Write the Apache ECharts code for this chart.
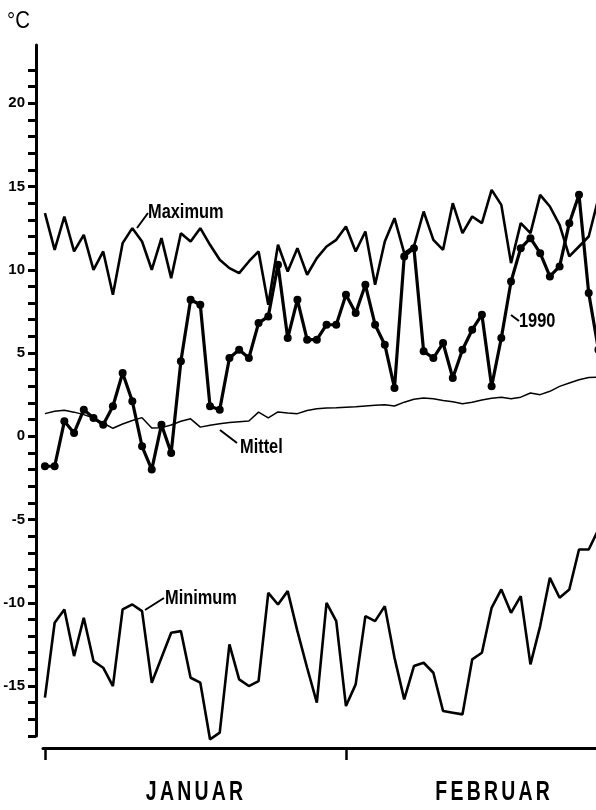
<!DOCTYPE html>
<html>
<head>
<meta charset="utf-8">
<script src="https://cdn.jsdelivr.net/npm/echarts@6/dist/echarts.min.js"></script>
<style>
  html, body { margin: 0; padding: 0; background: #fff; }
  #chart { width: 596px; height: 810px; }
</style>
</head>
<body>
<div id="chart"></div>
<script>
// Days from 1 January (index 0) to 28 February 1990 (index 58); picture is cut near Feb 27
const maximum = [13.4, 11.2, 13.2, 11.1, 12.1, 10.0, 11.1, 8.5, 11.6, 12.5,
  11.7, 10.0, 11.9, 9.5, 12.2, 11.7, 12.5, 11.5, 10.6, 10.1,
  9.8, 10.5, 11.1, 7.9, 11.5, 9.9, 11.3, 9.7, 10.7, 11.4,
  11.8, 12.6, 11.1, 12.3, 9.1, 11.7, 13.1, 11.0, 11.4, 13.5,
  11.8, 11.2, 14.0, 12.2, 13.2, 12.8, 14.8, 13.9, 10.4, 12.8,
  12.2, 14.5, 13.8, 12.7, 10.8, 11.4, 12.0, 14.3];
const year1990 = [-1.8, -1.8, 0.9, 0.2, 1.6, 1.1, 0.7, 1.8, 3.8, 2.1,
  -0.6, -2.0, 0.7, -1.0, 4.5, 8.2, 7.9, 1.8, 1.6, 4.7,
  5.2, 4.7, 6.8, 7.2, 10.3, 5.9, 8.2, 5.8, 5.8, 6.7,
  6.7, 8.5, 7.4, 9.1, 6.7, 5.5, 2.9, 10.8, 11.3, 5.1,
  4.7, 5.6, 3.5, 5.2, 6.4, 7.3, 3.0, 5.9, 9.3, 11.3,
  11.9, 11.0, 9.6, 10.2, 12.8, 14.5, 8.6, 5.2];
const mittel = [1.36, 1.5, 1.56, 1.45, 1.3, 1.1, 0.8, 0.48, 0.74, 0.95,
  1.12, 0.5, 0.52, 0.68, 0.9, 1.05, 0.55, 0.66, 0.75, 0.83,
  0.88, 0.92, 1.45, 1.1, 1.46, 1.4, 1.36, 1.55, 1.66, 1.7,
  1.72, 1.75, 1.78, 1.82, 1.86, 1.9, 1.82, 2.05, 2.22, 2.3,
  2.25, 2.15, 2.07, 1.95, 2.05, 2.18, 2.28, 2.35, 2.26, 2.35,
  2.6, 2.5, 2.7, 3.0, 3.2, 3.4, 3.53, 3.56];
const minimum = [-15.7, -11.2, -10.4, -13.2, -10.9, -13.5, -13.9, -15.0, -10.4, -10.1,
  -10.5, -14.8, -13.3, -11.8, -11.7, -14.5, -14.8, -18.2, -17.8, -12.5,
  -14.6, -15.0, -14.7, -9.4, -10.1, -9.3, -11.7, -13.9, -16.0, -10.0,
  -11.1, -16.2, -14.9, -10.8, -11.1, -10.2, -13.3, -15.8, -13.8, -13.6,
  -14.2, -16.5, -16.6, -16.7, -13.4, -13.0, -10.3, -9.2, -10.6, -9.6,
  -13.7, -11.4, -8.5, -9.7, -9.2, -6.8, -6.8, -5.6];

const monthTicks = [0, 31];                 // 1 Jan, 1 Feb
const monthLabelPos = [15.4, 46.1];
const monthNames = ['JANUAR', 'FEBRUAR'];
const yLabelValues = [-15, -10, -5, 0, 5, 10, 15, 20];
const yTickValues = [];
for (let v = -18; v <= 22; v++) yTickValues.push(v);

const FONT = "'Liberation Sans', Arial, sans-serif";
const spaced = s => s.split('').join('\u200A\u200A');
const toPairs = arr => arr.map((v, i) => [i, v]);

function label(text, x, y, size) {
  return { type: 'text', x: x, y: y, scaleX: 0.78,
    style: { text: text, font: 'bold ' + size + 'px ' + FONT, fill: '#000', verticalAlign: 'middle' } };
}
function leader(x1, y1, x2, y2) {
  return { type: 'line', shape: { x1, y1, x2, y2 }, style: { stroke: '#000', lineWidth: 2 } };
}

const chart = echarts.init(document.getElementById('chart'), null, { renderer: 'canvas' });
chart.setOption({
  animation: false,
  backgroundColor: '#fff',
  grid: { left: 43, right: 0, top: 45, bottom: 74, outerBoundsMode: 'none' },
  xAxis: {
    type: 'value', min: -0.2, max: 56.75, position: 'bottom', offset: 12,
    axisLine: { show: true, onZero: false, lineStyle: { color: '#000', width: 3 } },
    axisTick: { show: true, customValues: monthTicks, length: 12, lineStyle: { color: '#000', width: 2.5 } },
    axisLabel: { show: false },
    splitLine: { show: false }
  },
  yAxis: {
    type: 'value', min: -18, max: 23.5, position: 'left', offset: 7,
    axisLine: { show: true, onZero: false, lineStyle: { color: '#000', width: 3 } },
    axisTick: { show: true, customValues: yTickValues, length: 8, lineStyle: { color: '#000', width: 3 } },
    axisLabel: {
      customValues: yLabelValues, color: '#000', fontSize: 15, fontWeight: 'bold',
      fontFamily: FONT, margin: 11
    },
    splitLine: { show: false }
  },
  series: [
    { name: 'Maximum', type: 'line', data: toPairs(maximum), symbol: 'none', clip: false,
      lineStyle: { color: '#000', width: 2.6 } },
    { name: 'Minimum', type: 'line', data: toPairs(minimum), symbol: 'none', clip: false,
      lineStyle: { color: '#000', width: 2.6 } },
    { name: 'Mittel', type: 'line', data: toPairs(mittel), symbol: 'none', clip: false,
      lineStyle: { color: '#000', width: 1.5 } },
    { name: '1990', type: 'line', data: toPairs(year1990), symbol: 'circle', symbolSize: 8, clip: false,
      itemStyle: { color: '#000' }, lineStyle: { color: '#000', width: 3.2 } }
  ]
});

// month names under the time axis, placed through the x scale
const axisY = chart.convertToPixel({ gridIndex: 0 }, [0, -18])[1] + 12;
const monthGraphics = monthNames.map((name, k) => {
  const px = chart.convertToPixel({ gridIndex: 0 }, [monthLabelPos[k], 0])[0];
  return { type: 'text', x: px, y: axisY + 45, scaleX: 0.72, originX: 0, originY: 0,
    style: { text: spaced(name), font: 'bold 27px ' + FONT, fill: '#000', align: 'center', verticalAlign: 'middle' } };
});

chart.setOption({
  graphic: [
    { type: 'text', x: 7, y: 21, scaleX: 0.85,
      style: { text: '°C', font: 'normal 24px ' + FONT, fill: '#000', verticalAlign: 'middle' } },
    label('Maximum', 148, 212, 21), leader(137, 228, 148, 213),
    label('1990', 519, 321, 21), leader(511, 315, 519, 321),
    label('Mittel', 240, 447, 21), leader(220, 430, 237, 443),
    label('Minimum', 165, 598, 21), leader(145, 610, 164, 598)
  ].concat(monthGraphics)
});
</script>
</body>
</html>
